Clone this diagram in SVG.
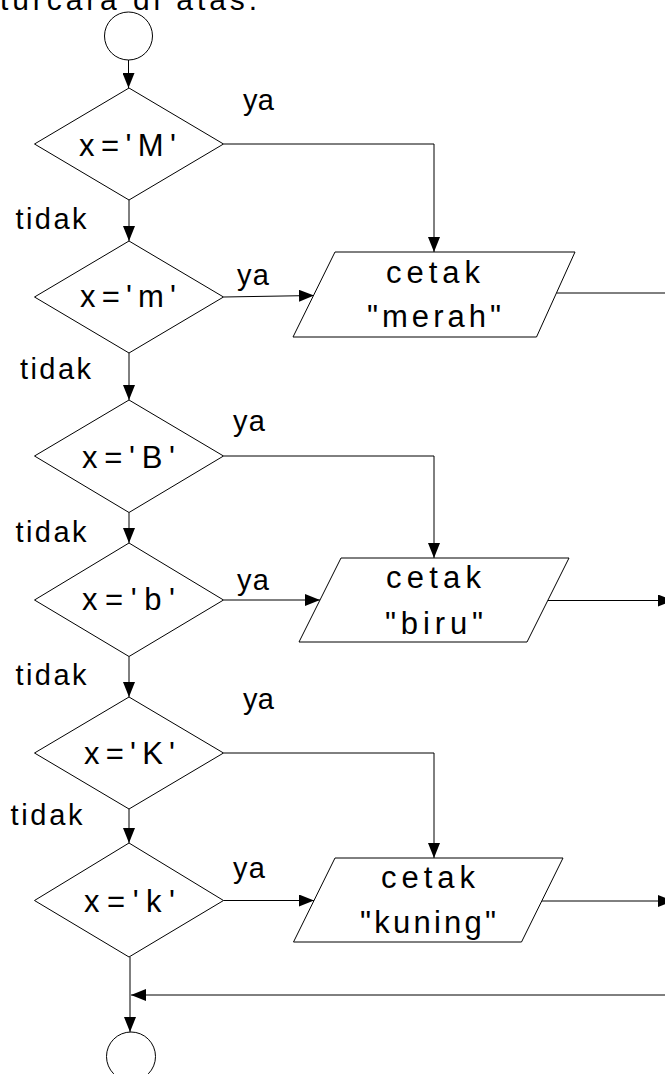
<svg xmlns="http://www.w3.org/2000/svg" width="665" height="1074" viewBox="0 0 665 1074">
  <style>
    .shape { fill: #ffffff; stroke: #000000; stroke-width: 1; }
    .line { fill: none; stroke: #000000; stroke-width: 1; }
    .arrow { marker-end: url(#head); }
    text { font-family: "Liberation Sans", Arial, sans-serif; fill: #000000; }
    .node { font-size: 31px; }
    .label { font-size: 29px; }
    .caption { font-size: 30px; }
  </style>
  <defs>
    <marker id="head" markerUnits="userSpaceOnUse" markerWidth="15" markerHeight="12" refX="15" refY="6" orient="auto">
      <path d="M0,0 L15,6 L0,12 Z" fill="#000000"/>
    </marker>
  </defs>

  <rect width="665" height="1074" fill="#ffffff"/>

  <!-- tail of the paragraph above the chart -->
  <text class="caption" x="0" y="10" textLength="257" lengthAdjust="spacing">turcara di atas.</text>

  <!-- connectors -->
  <g id="connectors">
    <line class="line arrow" x1="128.5" y1="60" x2="128.5" y2="88"/>
    <line class="line arrow" x1="129" y1="200" x2="129" y2="241"/>
    <line class="line arrow" x1="129" y1="353" x2="129" y2="400"/>
    <line class="line arrow" x1="129" y1="512.5" x2="129" y2="543"/>
    <line class="line arrow" x1="129" y1="656.5" x2="129" y2="697"/>
    <line class="line arrow" x1="129" y1="809" x2="129" y2="843"/>
    <line class="line arrow" x1="130" y1="957" x2="130" y2="1032"/>

    <!-- "ya" branches -->
    <polyline class="line arrow" points="223.5,144 434,144 434,252"/>
    <line class="line arrow" x1="223.5" y1="297" x2="314" y2="295.5"/>
    <polyline class="line arrow" points="223.5,456 434,456 434,558"/>
    <line class="line arrow" x1="223.5" y1="600" x2="320" y2="600"/>
    <polyline class="line arrow" points="223.5,753 434,753 434,858"/>
    <line class="line arrow" x1="223.5" y1="900.5" x2="314" y2="900.5"/>

    <!-- outputs leaving to the right -->
    <line class="line" x1="556.5" y1="293" x2="666" y2="293"/>
    <line class="line arrow" x1="548" y1="600.5" x2="673" y2="600.5"/>
    <line class="line arrow" x1="542" y1="901" x2="673" y2="901"/>

    <!-- return into the main path -->
    <line class="line arrow" x1="666" y1="995" x2="131" y2="995"/>
  </g>

  <!-- terminals -->
  <g id="start">
    <circle class="shape" cx="128.5" cy="36" r="24"/>
  </g>
  <g id="end">
    <circle class="shape" cx="131" cy="1056.5" r="24.5"/>
  </g>

  <!-- decisions -->
  <g id="cek-M">
    <polygon class="shape" points="129,88 223.5,144 129,200 34.5,144"/>
    <text class="node" x="79" y="156" textLength="97" lengthAdjust="spacing">x='M'</text>
  </g>
  <g id="cek-m">
    <polygon class="shape" points="129,241 223.5,297 129,353 34.5,297"/>
    <text class="node" x="80" y="307" textLength="96" lengthAdjust="spacing">x='m'</text>
  </g>
  <g id="cek-B">
    <polygon class="shape" points="129,400 223.5,456 129,512.5 34.5,456"/>
    <text class="node" x="82" y="468" textLength="93" lengthAdjust="spacing">x='B'</text>
  </g>
  <g id="cek-b">
    <polygon class="shape" points="129,543 223.5,600 129,656.5 34.5,600"/>
    <text class="node" x="82" y="610" textLength="93" lengthAdjust="spacing">x='b'</text>
  </g>
  <g id="cek-K">
    <polygon class="shape" points="129,697 223.5,753 129,809 34.5,753"/>
    <text class="node" x="84" y="764" textLength="91" lengthAdjust="spacing">x='K'</text>
  </g>
  <g id="cek-k">
    <polygon class="shape" points="129,843 223.5,900.5 129,957 34.5,900.5"/>
    <text class="node" x="84" y="911.5" textLength="91" lengthAdjust="spacing">x='k'</text>
  </g>

  <!-- outputs -->
  <g id="cetak-merah">
    <polygon class="shape" points="335,252 575,252 536.5,337 293,337"/>
    <text class="node" x="386" y="282.5" textLength="94" lengthAdjust="spacing">cetak</text>
    <text class="node" x="367" y="327" textLength="134" lengthAdjust="spacing">"merah"</text>
  </g>
  <g id="cetak-biru">
    <polygon class="shape" points="341,558 569,558 527,642 299,642"/>
    <text class="node" x="386" y="588" textLength="95" lengthAdjust="spacing">cetak</text>
    <text class="node" x="385" y="634" textLength="98" lengthAdjust="spacing">"biru"</text>
  </g>
  <g id="cetak-kuning">
    <polygon class="shape" points="335,858 563,858 521.5,942 293.5,942"/>
    <text class="node" x="381" y="888" textLength="94" lengthAdjust="spacing">cetak</text>
    <text class="node" x="360" y="933" textLength="136" lengthAdjust="spacing">"kuning"</text>
  </g>

  <!-- branch labels -->
  <g id="labels">
    <text class="label" x="243" y="109.5" textLength="31" lengthAdjust="spacing">ya</text>
    <text class="label" x="15.5" y="228.5" textLength="71" lengthAdjust="spacing">tidak</text>
    <text class="label" x="237" y="284.5" textLength="32" lengthAdjust="spacing">ya</text>
    <text class="label" x="20" y="379" textLength="71" lengthAdjust="spacing">tidak</text>
    <text class="label" x="233" y="431" textLength="32" lengthAdjust="spacing">ya</text>
    <text class="label" x="15.5" y="541.5" textLength="71" lengthAdjust="spacing">tidak</text>
    <text class="label" x="237" y="590" textLength="32" lengthAdjust="spacing">ya</text>
    <text class="label" x="15.5" y="685" textLength="71" lengthAdjust="spacing">tidak</text>
    <text class="label" x="243" y="709" textLength="31" lengthAdjust="spacing">ya</text>
    <text class="label" x="10.5" y="825" textLength="72" lengthAdjust="spacing">tidak</text>
    <text class="label" x="233" y="878" textLength="32" lengthAdjust="spacing">ya</text>
  </g>
</svg>
